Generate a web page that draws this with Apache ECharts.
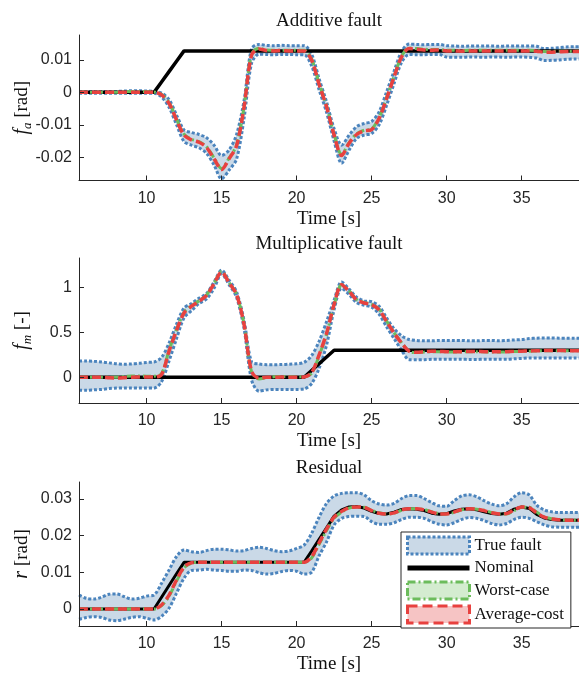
<!DOCTYPE html>
<html><head><meta charset="utf-8">
<script src="https://cdn.jsdelivr.net/npm/echarts@6/dist/echarts.min.js"></script>
<style>html,body{margin:0;padding:0;background:#fff}#c{width:579px;height:675px}</style>
</head><body><div id="c"></div>
<script>
// ---------- data ----------
const time = [5.5,6,6.5,7,7.5,8,8.5,9,9.5,10,10.5,
  11,11.5,12,12.5,13,13.5,14,14.5,15,15.5,16,16.5,17,17.5,
  18,18.5,19,19.5,20,20.5,
  21,21.5,22,22.5,23,23.5,24,24.5,25,25.5,26,26.5,27,27.5,
  28,28.5,29,29.5,30,
  30.5,31,31.5,32,32.5,33,33.5,34,34.5,35,35.5,36,
  36.5,37,37.5,38,38.5,39];

const titles = ['Additive fault', 'Multiplicative fault', 'Residual'];
const legendNames = ['True fault', 'Nominal', 'Worst-case', 'Average-cost'];

// Additive fault
const faNominal = [0,0,0,0,0,0,0,0,0,0,0,
  0.0032,0.0064,0.0096,0.0128,0.0128,0.0128,0.0128,0.0128,0.0128,0.0128,0.0128,0.0128,0.0128,0.0128,
  0.0128,0.0128,0.0128,0.0128,0.0128,0.0128,
  0.0128,0.0128,0.0128,0.0128,0.0128,0.0128,0.0128,0.0128,0.0128,0.0128,0.0128,0.0128,0.0128,0.0128,
  0.0128,0.0128,0.0128,0.0128,0.0128,
  0.0128,0.0128,0.0128,0.0128,0.0128,0.0128,0.0128,0.0128,0.0128,0.0128,0.0128,0.0128,
  0.0128,0.0128,0.0128,0.0128,0.0128,0.0128];
const faAvg = [0,0,0,0,0,0,0,0,0,0,0,
  -0.0008,-0.0034,-0.0085,-0.0132,-0.0147,-0.0154,-0.0170,-0.0205,-0.0238,-0.0205,-0.0165,-0.0045,0.0115,0.0134,
  0.0129,0.0128,0.0129,0.0128,0.0128,0.0128,
  0.0100,0.0025,-0.0045,-0.0132,-0.0195,-0.0157,-0.0130,-0.0119,-0.0115,-0.0080,-0.0019,0.0048,0.0110,0.0135,
  0.0133,0.0131,0.0130,0.0131,0.0128,
  0.0128,0.0127,0.0128,0.0128,0.0128,0.0128,0.0128,0.0128,0.0128,0.0128,0.0128,0.0127,
  0.0124,0.0124,0.0125,0.0126,0.0126,0.0126];
const faWorst = [0,0,0,0,0,0,0.0002,0.0003,0.0003,0.0002,0.0001,
  -0.0006,-0.0031,-0.0082,-0.0129,-0.0145,-0.0152,-0.0168,-0.0202,-0.0235,-0.0203,-0.0163,-0.0043,0.0118,0.0136,
  0.0131,0.0130,0.0130,0.0130,0.0130,0.0130,
  0.0103,0.0028,-0.0042,-0.0129,-0.0192,-0.0155,-0.0128,-0.0117,-0.0113,-0.0078,-0.0017,0.0050,0.0112,0.0137,
  0.0135,0.0133,0.0132,0.0132,0.0130,
  0.0130,0.0129,0.0130,0.0130,0.0130,0.0130,0.0130,0.0130,0.0130,0.0130,0.0130,0.0129,
  0.0126,0.0126,0.0127,0.0127,0.0127,0.0127];
const faHi = [0.0003,0.0003,0.0003,0.0003,0.0003,0.0003,0.0004,0.0005,0.0005,0.0004,0.0003,
  -0.0002,-0.0022,-0.0070,-0.0116,-0.0124,-0.0130,-0.0140,-0.0163,-0.0195,-0.0178,-0.0130,-0.0025,0.0135,0.0148,
  0.0145,0.0144,0.0145,0.0144,0.0144,0.0144,
  0.0118,0.0042,-0.0030,-0.0112,-0.0163,-0.0132,-0.0106,-0.0096,-0.0090,-0.0060,0.0002,0.0066,0.0126,0.0149,
  0.0148,0.0147,0.0148,0.0148,0.0144,
  0.0143,0.0142,0.0143,0.0143,0.0143,0.0143,0.0142,0.0143,0.0143,0.0143,0.0143,0.0142,
  0.0135,0.0136,0.0138,0.0140,0.0141,0.0141];
const faLo = [-0.0003,-0.0003,-0.0003,-0.0003,-0.0003,-0.0003,-0.0003,-0.0003,-0.0003,-0.0003,-0.0003,
  -0.0014,-0.0046,-0.0100,-0.0152,-0.0163,-0.0171,-0.0188,-0.0224,-0.0267,-0.0240,-0.0206,-0.0080,0.0090,0.0118,
  0.0117,0.0116,0.0117,0.0117,0.0116,0.0116,
  0.0082,0.0008,-0.0062,-0.0150,-0.0219,-0.0178,-0.0142,-0.0132,-0.0127,-0.0100,-0.0040,0.0028,0.0093,0.0117,
  0.0116,0.0116,0.0117,0.0117,0.0109,
  0.0108,0.0108,0.0109,0.0109,0.0108,0.0109,0.0109,0.0108,0.0109,0.0109,0.0108,0.0106,
  0.0098,0.0099,0.0100,0.0102,0.0103,0.0103];

// Multiplicative fault
const fmNominal = [0,0,0,0,0,0,0,0,0,0,0,
  0,0,0,0,0,0,0,0,0,0,0,0,0,0,
  0,0,0,0,0,0,
  0.075,0.15,0.225,0.30,0.30,0.30,0.30,0.30,0.30,0.30,0.30,0.30,0.30,0.30,
  0.30,0.30,0.30,0.30,0.30,
  0.30,0.30,0.30,0.30,0.30,0.30,0.30,0.30,0.30,0.30,0.30,0.30,
  0.30,0.30,0.30,0.30,0.30,0.30];
const fmAvg = [0,0,0,0,-0.005,-0.008,-0.005,0,0.002,0.002,0.002,
  0.03,0.29,0.52,0.715,0.79,0.845,0.91,1.04,1.17,1.05,0.92,0.585,0.067,-0.01,
  0.0,0.0,0.002,0.0,0.0,0.003,
  0.05,0.25,0.49,0.81,1.03,0.955,0.86,0.826,0.807,0.75,0.62,0.49,0.38,0.29,
  0.278,0.285,0.29,0.288,0.285,
  0.283,0.285,0.287,0.287,0.285,0.283,0.283,0.285,0.288,0.29,0.292,0.295,
  0.297,0.298,0.297,0.296,0.296,0.296];
const fmWorst = [0,0,0,0,0,0,0.01,0.015,0.015,0.012,0.012,
  0.04,0.30,0.53,0.72,0.795,0.85,0.915,1.045,1.175,1.055,0.925,0.59,0.06,-0.02,
  -0.005,0.005,0.008,0.006,0.004,0.006,
  0.045,0.24,0.48,0.80,1.03,0.96,0.865,0.83,0.81,0.755,0.625,0.495,0.385,0.29,
  0.275,0.28,0.285,0.285,0.283,
  0.28,0.283,0.285,0.285,0.283,0.28,0.28,0.283,0.286,0.288,0.29,0.293,
  0.295,0.296,0.295,0.294,0.294,0.294];
const fmHi = [0.18,0.18,0.178,0.17,0.16,0.15,0.145,0.148,0.155,0.165,0.17,
  0.22,0.38,0.59,0.77,0.82,0.88,0.93,1.06,1.19,1.08,0.95,0.63,0.17,0.148,
  0.14,0.14,0.142,0.145,0.15,0.165,
  0.24,0.40,0.62,0.86,1.06,0.98,0.89,0.85,0.84,0.79,0.66,0.54,0.46,0.42,
  0.41,0.405,0.405,0.41,0.41,
  0.41,0.41,0.405,0.405,0.41,0.41,0.405,0.41,0.415,0.42,0.43,0.435,
  0.437,0.437,0.435,0.435,0.435,0.435];
const fmLo = [-0.145,-0.145,-0.14,-0.135,-0.125,-0.12,-0.118,-0.118,-0.12,-0.12,-0.12,
  -0.05,0.18,0.43,0.66,0.74,0.82,0.87,0.99,1.15,1.03,0.89,0.54,-0.03,-0.155,
  -0.14,-0.135,-0.135,-0.135,-0.135,-0.13,
  -0.07,0.10,0.36,0.75,0.99,0.92,0.83,0.80,0.78,0.70,0.56,0.43,0.30,0.196,
  0.195,0.195,0.2,0.2,0.2,
  0.2,0.2,0.198,0.198,0.2,0.2,0.2,0.2,0.205,0.21,0.215,0.215,
  0.215,0.215,0.215,0.215,0.215,0.215];

// Residual
const rNominal = [0,0,0,0,0,0,0,0,0,0,0,
  0.0032,0.0064,0.0096,0.0127,0.0127,0.0127,0.0127,0.0127,0.0127,0.0127,0.0127,0.0127,0.0127,0.0127,
  0.0127,0.0127,0.0127,0.0127,0.0127,0.0127,
  0.0158,0.0190,0.0221,0.0253,0.0270,0.0278,0.0279,0.0275,0.0266,0.0260,0.0259,0.0264,0.0271,0.0273,
  0.0272,0.0268,0.0261,0.0258,0.0260,
  0.0267,0.0272,0.0273,0.0270,0.0265,0.0260,0.0258,0.0261,0.0272,0.0278,0.0274,0.0258,
  0.0248,0.0244,0.0242,0.0242,0.0242,0.0242];
const rAvg = [0,0,0,0,0,0,0,0,0,0,0,
  0.0011,0.0038,0.0079,0.0114,0.0126,0.0127,0.0127,0.0127,0.0127,0.0127,0.0127,0.0127,0.0127,0.0127,
  0.0127,0.0127,0.0127,0.0127,0.0127,0.0127,
  0.0142,0.0180,0.0218,0.0250,0.0266,0.0276,0.0278,0.0277,0.0268,0.0261,0.0259,0.0262,0.0270,0.0273,
  0.0273,0.0270,0.0264,0.0259,0.0259,
  0.0264,0.0271,0.0273,0.0272,0.0268,0.0262,0.0259,0.0260,0.0270,0.0278,0.0276,0.0262,
  0.0250,0.0245,0.0243,0.0242,0.0242,0.0242];
const rWorst = [0,0,0,0,0,0,0,0,0,0,0,
  0.0009,0.0035,0.0076,0.0112,0.0125,0.0127,0.0127,0.0127,0.0127,0.0127,0.0127,0.0127,0.0127,0.0127,
  0.0127,0.0127,0.0127,0.0127,0.0127,0.0127,
  0.0139,0.0176,0.0214,0.0247,0.0264,0.0275,0.0278,0.0277,0.0269,0.0262,0.0259,0.0261,0.0269,0.0273,
  0.0273,0.0271,0.0265,0.0260,0.0259,
  0.0263,0.0270,0.0273,0.0272,0.0269,0.0263,0.0259,0.0259,0.0268,0.0277,0.0277,0.0264,
  0.0251,0.0246,0.0243,0.0242,0.0242,0.0242];
const rHi = [0.0038,0.0029,0.0027,0.0032,0.0040,0.0041,0.0034,0.0027,0.0029,0.0035,0.0038,
  0.0070,0.0106,0.0143,0.0161,0.0156,0.0154,0.0159,0.0163,0.0163,0.0161,0.0158,0.0159,0.0165,0.0168,
  0.0165,0.0159,0.0156,0.0158,0.0165,0.0174,
  0.0206,0.0250,0.0288,0.0308,0.0315,0.0317,0.0317,0.0311,0.0295,0.0286,0.0283,0.0288,0.0301,0.0309,
  0.0309,0.0301,0.0290,0.0281,0.0280,
  0.0295,0.0308,0.0311,0.0306,0.0295,0.0286,0.0281,0.0287,0.0306,0.0317,0.0311,0.0283,
  0.0270,0.0265,0.0263,0.0263,0.0263,0.0263];
const rLo = [-0.0028,-0.0023,-0.0021,-0.0023,-0.0030,-0.0032,-0.0028,-0.0023,-0.0021,-0.0025,-0.0030,
  -0.0020,0.0002,0.0043,0.0084,0.0105,0.0106,0.0108,0.0106,0.0105,0.0103,0.0103,0.0106,0.0105,0.0099,
  0.0095,0.0097,0.0102,0.0105,0.0103,0.0095,
  0.0100,0.0145,0.0183,0.0229,0.0247,0.0252,0.0253,0.0252,0.0238,0.0231,0.0231,0.0235,0.0244,0.0250,
  0.0250,0.0247,0.0238,0.0231,0.0229,
  0.0235,0.0244,0.0249,0.0247,0.0241,0.0233,0.0229,0.0233,0.0244,0.0250,0.0247,0.0238,
  0.0229,0.0224,0.0223,0.0223,0.0223,0.0223];

// ---------- styling ----------
const BLUE = '#4b84bd', BAND = '#cad9e7', RED = '#e8413f', GREEN = '#6cbc5c';
const RED_FILL = '#f6c4c4', GREEN_FILL = '#d4ecd0';
const AX = '#262626';
const SERIF = 'Liberation Serif', SANS = 'Liberation Sans';

const plots = [
  {hi: faHi, lo: faLo, nom: faNominal, worst: faWorst, avg: faAvg, top: 35, h: 145.5, ymin: -0.0272, ymax: 0.0177, step: 0.01,
   yname: '{i|f}{s|a} [rad]'},
  {hi: fmHi, lo: fmLo, nom: fmNominal, worst: fmWorst, avg: fmAvg, top: 258, h: 145, ymin: -0.286, ymax: 1.326, step: 0.5,
   yname: '{i|f}{s|m} [-]'},
  {hi: rHi, lo: rLo, nom: rNominal, worst: rWorst, avg: rAvg, top: 482, h: 144, ymin: -0.00464, ymax: 0.0346, step: 0.01,
   yname: '{i|r} [rad]'}
];

const pairs = arr => time.map((t, i) => [t, arr[i]]);

const grid = [], xAxis = [], yAxis = [], series = [], title = [];
plots.forEach((p, g) => {
  grid.push({left: 79, right: 0, top: p.top, height: p.h, containLabel: false, outerBoundsMode: 'none'});
  title.push({text: titles[g], left: 329, top: p.top - 23, textAlign: 'center', padding: 0,
    textStyle: {fontFamily: SERIF, fontSize: 19, fontWeight: 'normal', color: '#111'}});
  xAxis.push({type: 'value', gridIndex: g, min: 5.5, max: 38.82, minInterval: 5, maxInterval: 5, z: 10,
    name: 'Time [s]', nameLocation: 'middle', nameGap: 29, nameMoveOverlap: false,
    nameTextStyle: {fontFamily: SERIF, fontSize: 19, color: '#111'},
    axisLine: {onZero: false, lineStyle: {color: AX, width: 1}},
    axisTick: {inside: true, length: 5, lineStyle: {color: AX}},
    axisLabel: {fontFamily: SANS, fontSize: 16, color: AX, margin: 10, showMinLabel: false, showMaxLabel: false},
    splitLine: {show: false}});
  yAxis.push({type: 'value', gridIndex: g, min: p.ymin, max: p.ymax, minInterval: p.step, maxInterval: p.step, z: 10,
    name: p.yname, nameLocation: 'middle', nameGap: 45, nameRotate: 90, nameMoveOverlap: false,
    nameTextStyle: {fontFamily: SERIF, fontSize: 19, color: '#111', lineHeight: 24,
      rich: {i: {fontFamily: SERIF, fontStyle: 'italic', fontSize: 20, lineHeight: 24, verticalAlign: 'middle'},
             s: {fontFamily: SERIF, fontStyle: 'italic', fontSize: 13, lineHeight: 24, verticalAlign: 'bottom'}}},
    axisLine: {show: true, onZero: false, lineStyle: {color: AX, width: 1}},
    axisTick: {show: true, inside: true, length: 5, lineStyle: {color: AX}},
    axisLabel: {fontFamily: SANS, fontSize: 16, color: AX, margin: 7, showMinLabel: false, showMaxLabel: false},
    splitLine: {show: false}});
  const common = {type: 'line', xAxisIndex: g, yAxisIndex: g, symbol: 'none', showSymbol: false,
    smooth: 0.3, animation: false};
  // band: upper edge filled down to the axis, lower edge filled with white on top of it
  series.push(Object.assign({}, common, {name: legendNames[0], data: pairs(p.hi),
    lineStyle: {color: BLUE, width: 3, type: [3, 2]}, areaStyle: {color: BAND, opacity: 1, origin: 'start'}, z: 2}));
  series.push(Object.assign({}, common, {name: 'band-lo', data: pairs(p.lo),
    lineStyle: {color: BLUE, width: 3, type: [3, 2]}, areaStyle: {color: '#ffffff', opacity: 1, origin: 'start'}, z: 3, silent: true}));
  series.push(Object.assign({}, common, {name: legendNames[1], data: pairs(p.nom), smooth: false,
    lineStyle: {color: '#000', width: g === 2 ? 3 : 3.5}, z: 4}));
  series.push(Object.assign({}, common, {name: legendNames[2], data: pairs(p.worst),
    lineStyle: {color: GREEN, width: 3, type: [8, 3, 2, 3]}, z: 5}));
  series.push(Object.assign({}, common, {name: legendNames[3], data: pairs(p.avg),
    lineStyle: {color: RED, width: 3.5, type: [9, 4]}, z: 6}));
});

const chart = echarts.init(document.getElementById('c'), null, {renderer: 'canvas'});
chart.setOption({
  animation: false,
  backgroundColor: '#fff',
  title, grid, xAxis, yAxis, series,
  legend: {
    left: 401, top: 532, orient: 'vertical', itemWidth: 62, itemHeight: 17, itemGap: 4,
    padding: [3.5, 7, 3.5, 5], borderColor: AX, borderWidth: 1, backgroundColor: '#fff',
    selectedMode: false, z: 20,
    textStyle: {fontFamily: SERIF, fontSize: 17, color: '#111'},
    data: [
      {name: legendNames[0], icon: 'rect', itemStyle: {color: BAND, borderColor: BLUE, borderWidth: 3, borderType: [3, 2]}},
      {name: legendNames[1], icon: 'path://M0,0L62,0L62,5L0,5Z', itemStyle: {color: '#000', borderWidth: 0}},
      {name: legendNames[2], icon: 'rect', itemStyle: {color: GREEN_FILL, borderColor: GREEN, borderWidth: 3, borderType: [8, 3, 2, 3]}},
      {name: legendNames[3], icon: 'rect', itemStyle: {color: RED_FILL, borderColor: RED, borderWidth: 3, borderType: [10, 5]}}
    ]
  }
});
</script></body></html>
